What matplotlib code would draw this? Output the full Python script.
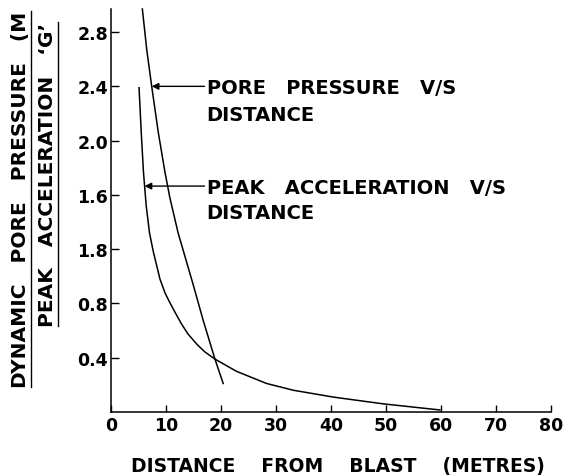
import numpy as np
import matplotlib
matplotlib.use('Agg')
import matplotlib.pyplot as plt
from matplotlib.lines import Line2D

# Set figure sizes
fig_w, fig_h = 5.72, 4.77

plt.rcParams['font.family']       = 'DejaVu Sans'
plt.rcParams['font.weight']       = 'bold'
plt.rcParams['axes.labelweight']  = 'bold'
plt.rcParams['axes.spines.top']   = False
plt.rcParams['axes.spines.right'] = False
plt.rcParams['axes.linewidth']    = 1.1

# Data
pore_x = [5.7, 6.5, 7.4, 8.6, 9.8, 10.7, 12.2, 14.0, 15.0, 16.8, 18.9, 20.4]
pore_y = [2.97, 2.67, 2.40, 2.06, 1.77, 1.58, 1.32, 1.07, 0.93, 0.67, 0.39, 0.21]

accel_x = [5.1, 5.5, 5.9, 6.4, 7.0, 7.7, 8.9, 9.8, 10.4, 11.3, 12.8, 14.0,
           15.6, 17.0, 18.9, 22.8, 28.3, 33.2, 40.4, 49.5, 59.8]
accel_y = [2.39, 2.06, 1.77, 1.52, 1.32, 1.18, 0.98, 0.88, 0.83, 0.76, 0.65,
           0.575, 0.50, 0.445, 0.39, 0.30, 0.21, 0.16, 0.11, 0.06, 0.015]

xticks = [0, 10, 20, 30, 40, 50, 60, 70, 80]
yticks = [0.4, 0.8, 1.2, 1.6, 2.0, 2.4, 2.8]
ytick_labels = ['0.4', '0.8', '1.8', '1.6', '2.0', '2.4', '2.8']  # as printed

pore_label = 'PORE   PRESSURE   V/S\nDISTANCE'
accel_label = 'PEAK   ACCELERATION   V/S\nDISTANCE'
xlabel = 'DISTANCE    FROM    BLAST    (METRES)'
ylabel_1 = 'DYNAMIC   PORE   PRESSURE   (M'
ylabel_2 = 'PEAK   ACCELERATION   \u2018G\u2019'

W, H = 572, 477
fig = plt.figure(figsize=(fig_w, fig_h), dpi=100)
ax = fig.add_axes([111 / W, (H - 413) / H, 440 / W, 403 / H])

ax.plot(pore_x, pore_y, color='black', lw=1.1, clip_on=False)
ax.plot(accel_x, accel_y, color='black', lw=1.1, clip_on=False)

ax.set_xlim(0, 80)
ax.set_ylim(0, 2.97)
ax.set_xticks(xticks)
ax.set_yticks(yticks)
ax.set_yticklabels(ytick_labels)
ax.tick_params(axis='x', direction='in', length=5, width=1, pad=3, labelsize=12.5)
ax.tick_params(axis='y', direction='in', length=6, width=1, pad=2, labelsize=12.5)

ax.set_xlabel(xlabel, fontsize=13.5, fontweight='bold')
ax.xaxis.set_label_coords((338 - 111) / 440, -(457 - 413) / 403)

arrow = dict(arrowstyle='-|>', color='black', lw=1.0, mutation_scale=10,
             shrinkA=0, shrinkB=0)
ax.annotate('', xy=(7.4, 2.40), xytext=(17.0, 2.40), arrowprops=arrow)
ax.annotate('', xy=(6.1, 1.665), xytext=(17.0, 1.665), arrowprops=arrow)
ax.text(17.4, 2.40 + 0.06, pore_label, fontsize=14, va='top', ha='left',
        linespacing=1.5)
ax.text(17.4, 1.665 + 0.06, accel_label, fontsize=14, va='top', ha='left',
        linespacing=1.4)

# y labels, two underlined lines
t1 = fig.text(21 / W, 1 - 388 / H, ylabel_1, rotation=90, fontsize=14.5,
              ha='center', va='bottom')
t2 = fig.text(48 / W, 1 - 327 / H, ylabel_2, rotation=90, fontsize=14.5,
              ha='center', va='bottom')

fig.canvas.draw()
r = fig.canvas.get_renderer()
for t, ux in [(t1, 31), (t2, 58)]:
    bb = t.get_window_extent(r)
    fig.add_artist(Line2D([ux / W, ux / W], [bb.y0 / H, min(bb.y1, H) / H],
                          transform=fig.transFigure, color='black', lw=1.0))

fig.savefig('out.png', dpi=100)
